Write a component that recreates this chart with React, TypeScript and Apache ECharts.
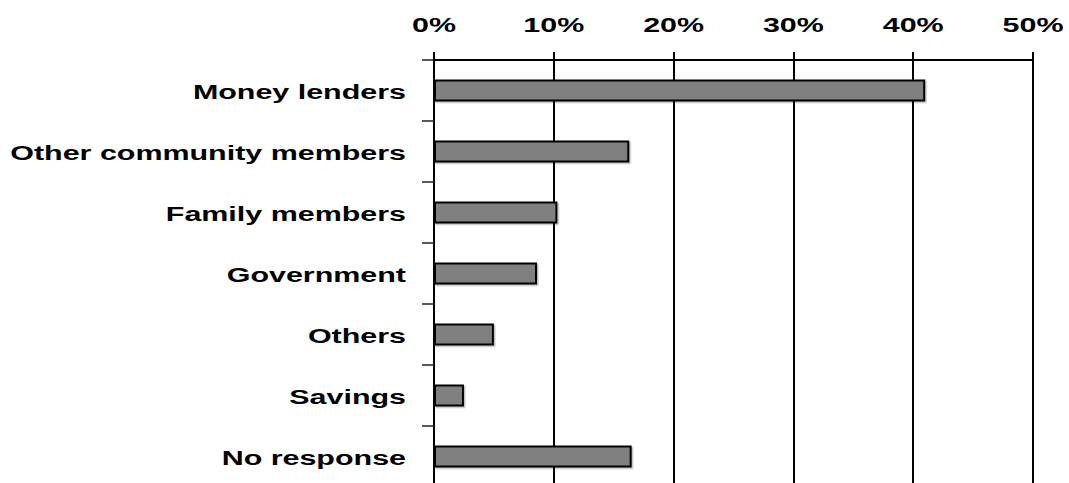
import React, { useEffect, useRef } from "react";
import * as echarts from "echarts";

const categories = [
  "Money lenders",
  "Other community members",
  "Family members",
  "Government",
  "Others",
  "Savings",
  "No response",
];
const values = [41.0, 16.3, 10.3, 8.6, 5.0, 2.5, 16.5];
const xTickValues = [0, 10, 20, 30, 40, 50];
const xTickLabels = ["0%", "10%", "20%", "30%", "40%", "50%"];

const FONT = "'Liberation Sans', Arial, sans-serif";
const STRETCH = 1.45;

export default function App() {
  const ref = useRef<HTMLDivElement>(null);
  useEffect(() => {
    if (!ref.current) return;
    const chart = echarts.init(ref.current, null, { renderer: "svg" });
    chart.setOption({
      animation: false,
      backgroundColor: "#ffffff",
      grid: {
        left: 434,
        top: 60,
        width: 599,
        height: 427,
        containLabel: false,
        outerBoundsMode: "none",
      },
      xAxis: {
        type: "value",
        position: "top",
        min: 0,
        max: 50,
        interval: 10,
        axisLine: { show: true, lineStyle: { color: "#000", width: 2 } },
        axisTick: { show: true, length: 8, inside: false, lineStyle: { color: "#000", width: 2 } },
        splitLine: { show: true, lineStyle: { color: "#000", width: 2 } },
        axisLabel: { show: false },
      },
      yAxis: {
        type: "category",
        inverse: true,
        data: categories,
        axisLine: { show: true, lineStyle: { color: "#000", width: 2 } },
        axisTick: { show: true, length: 12, lineStyle: { color: "#222", width: 1.5 } },
        axisLabel: { show: false },
        splitLine: { show: false },
      },
      series: [
        {
          type: "bar",
          data: values,
          barWidth: 22,
          itemStyle: {
            color: "#808080",
            borderColor: "#000",
            borderWidth: 2,
            shadowColor: "rgba(0,0,0,0.25)",
            shadowOffsetX: 1.5,
            shadowOffsetY: 1.5,
            shadowBlur: 0,
          },
        },
      ],
    });

    const graphics: any[] = [];
    xTickValues.forEach((v, i) => {
      const px = chart.convertToPixel({ xAxisIndex: 0 }, v) as number;
      graphics.push({
        type: "text",
        x: px,
        y: 25,
        scaleX: STRETCH,
        style: {
          text: xTickLabels[i],
          fontFamily: FONT,
          fontWeight: "bold",
          fontSize: 21,
          fill: "#000",
          align: "center",
          verticalAlign: "middle",
        },
      });
    });
    const x0 = chart.convertToPixel({ xAxisIndex: 0 }, 0) as number;
    categories.forEach((c) => {
      const py = chart.convertToPixel({ yAxisIndex: 0 }, c) as number;
      graphics.push({
        type: "text",
        x: x0 - 28,
        y: py + 1,
        scaleX: STRETCH,
        style: {
          text: c,
          fontFamily: FONT,
          fontWeight: "bold",
          fontSize: 21,
          fill: "#000",
          align: "right",
          verticalAlign: "middle",
        },
      });
    });
    chart.setOption({ graphic: graphics });

    return () => chart.dispose();
  }, []);
  return (
    <div
      ref={ref}
      style={{ position: "absolute", left: 0, top: 0, width: 1069, height: 483 }}
    />
  );
}
